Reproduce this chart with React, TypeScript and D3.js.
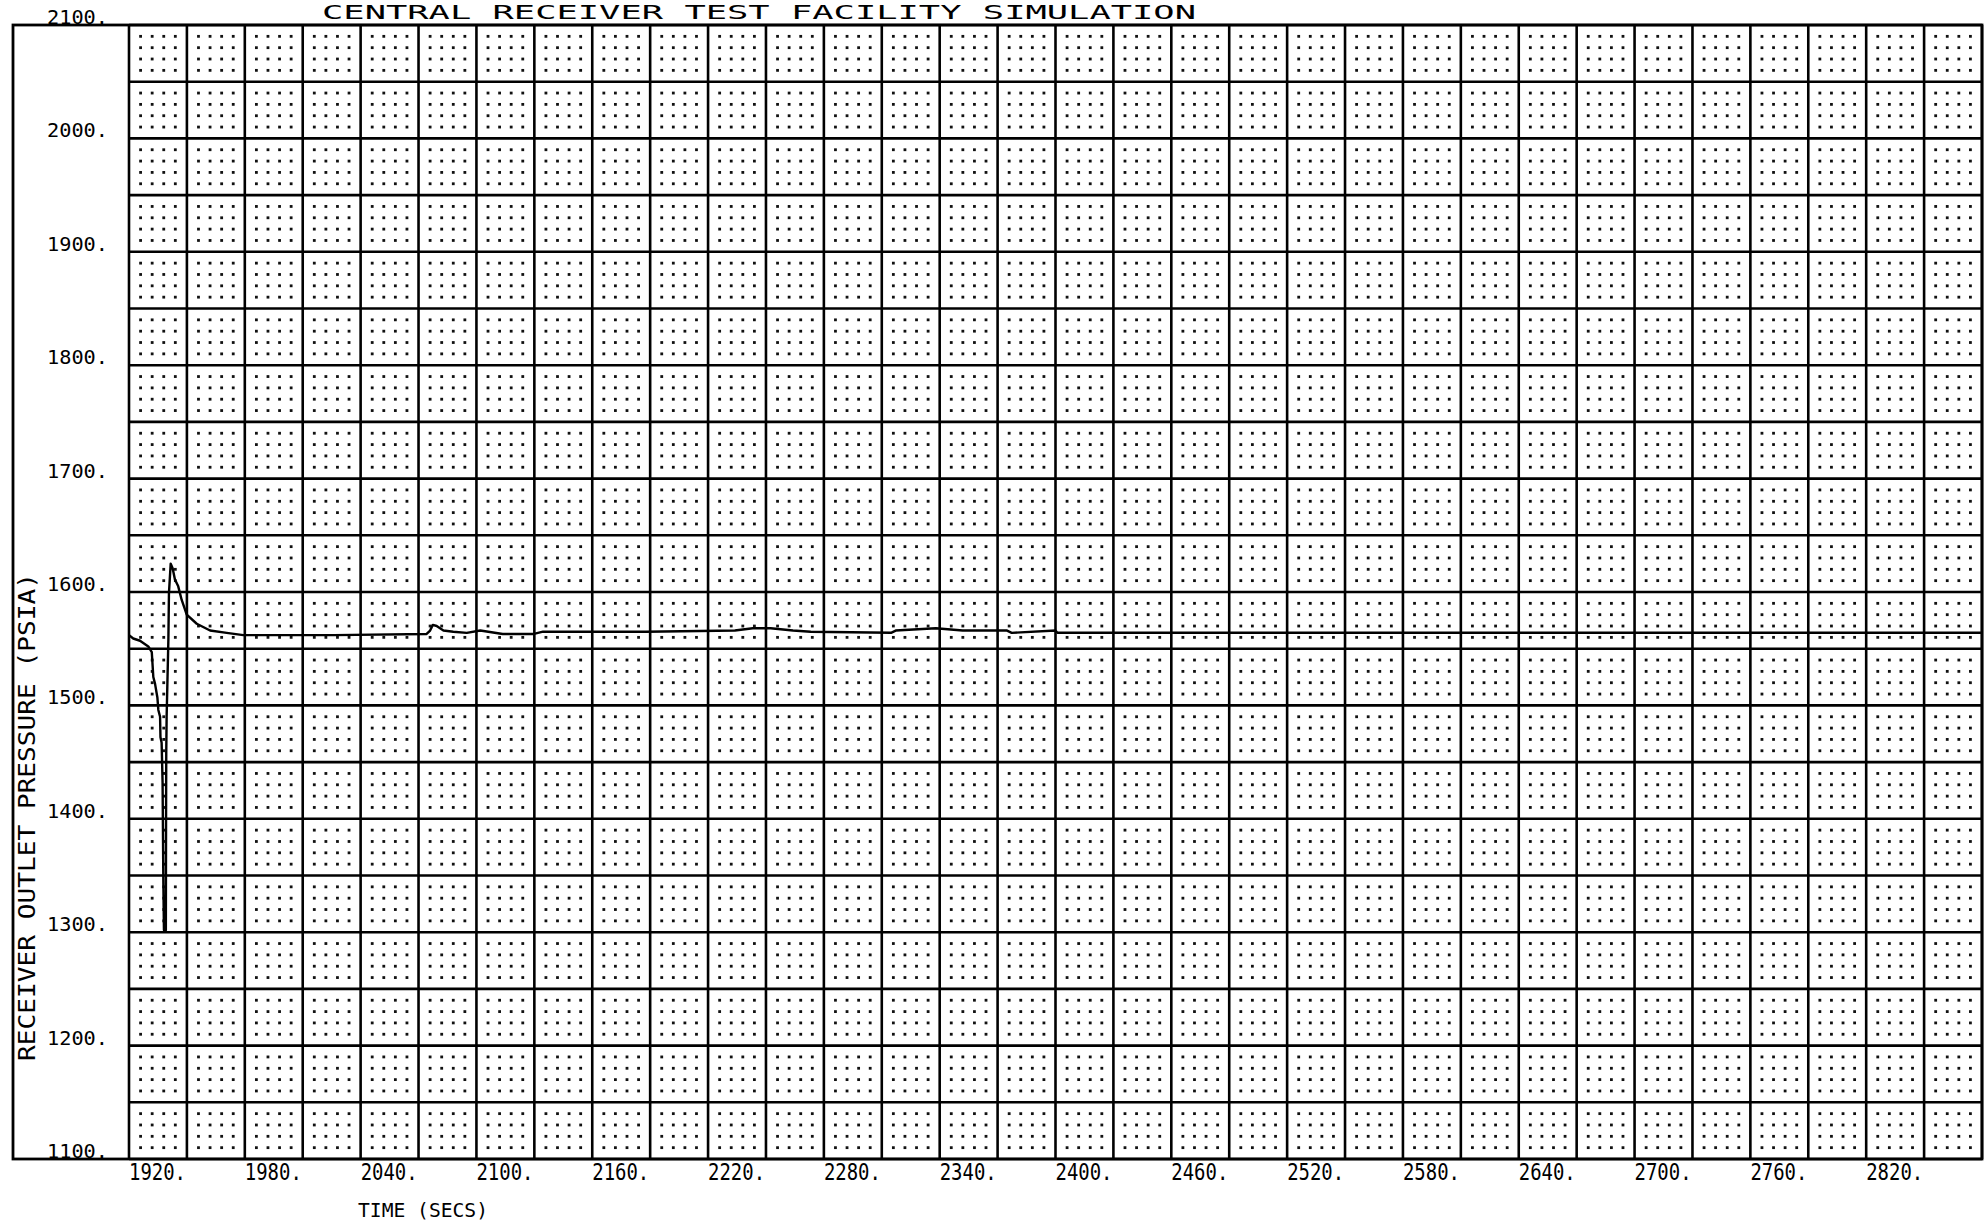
import React, {useEffect, useRef} from 'react';
import * as d3 from 'd3';

const chartTitle = 'CENTRAL RECEIVER TEST FACILITY SIMULATION';
const xTitle = 'TIME (SECS)';
const yTitle = 'RECEIVER OUTLET PRESSURE (PSIA)';

// trace
const timeSecs = [
  1920, 1922.2, 1925.7, 1930, 1931.8, 1932.6, 1933.5, 1934.7, 1935.2, 1936.1,
  1936.3, 1936.9, 1937.4, 1937.8, 1938.1, 1939.1, 1939.2, 1939.3, 1939.5, 1940.4,
  1940.7, 1941.6, 1942.6, 1943.8, 1945.5, 1947.3, 1949.9, 1955.1, 1962, 1970.6,
  1979.2, 2026, 2074.2, 2076, 2077.4, 2079.4, 2082.9, 2088, 2095, 2102,
  2113.6, 2129.8, 2134.5, 2187.6, 2233.9, 2243.2, 2252.4, 2264, 2273.2, 2314.8,
  2317.2, 2338, 2351.9, 2374.9, 2377.3, 2400, 2401, 2880
];
const pressurePsia = [
  1562, 1559, 1557, 1552, 1547, 1525, 1519, 1507, 1496, 1490,
  1472, 1467, 1432, 1343, 1302, 1302, 1400, 1458, 1490, 1558,
  1599, 1625, 1621, 1611, 1605, 1593, 1580, 1572, 1566, 1564,
  1562, 1562, 1563, 1566, 1571, 1570, 1566, 1565, 1564, 1566,
  1563, 1563, 1565, 1565, 1566, 1568, 1568, 1566, 1565, 1564,
  1566, 1568, 1566, 1566, 1564, 1566, 1564, 1564
];

const xTickLabels = [1920, 1980, 2040, 2100, 2160, 2220, 2280, 2340, 2400, 2460, 2520, 2580, 2640, 2700, 2760, 2820];
const yTickLabels = [1100, 1200, 1300, 1400, 1500, 1600, 1700, 1800, 1900, 2000, 2100];

const W = 1985;
const H = 1227;
const frame = {left: 13, plotLeft: 129, right: 1982, top: 25, bottom: 1159};
const font = '"DejaVu Sans Mono", monospace';

function App() {
  const chartRef = useRef<SVGSVGElement>(null);

  useEffect(() => {
    const svg = d3.select(chartRef.current);
    svg.selectAll('*').remove();

    const x = d3.scaleLinear().domain([1920, 2880]).range([frame.plotLeft, frame.right]);
    const y = d3.scaleLinear().domain([1100, 2100]).range([frame.bottom, frame.top]);

    svg.append('rect').attr('width', W).attr('height', H).attr('fill', '#fff');

    // dotted minor grid, 4x4 per cell
    const minorX = d3.range(1920, 2880, 6).filter(v => (v - 1920) % 30 !== 0);
    const minorY = d3.range(1100, 2100, 10).filter(v => (v - 1100) % 50 !== 0);
    const dots = minorX.flatMap(a => minorY.map(b => [a, b]));
    svg.append('g')
      .selectAll('rect')
      .data(dots)
      .join('rect')
      .attr('x', d => x(d[0]) - 1.4)
      .attr('y', d => y(d[1]) - 1.4)
      .attr('width', 2.8)
      .attr('height', 2.8)
      .attr('fill', '#111');

    // major grid
    const grid = svg.append('g').attr('stroke', '#000').attr('stroke-width', 2.6);
    grid.selectAll('line.v')
      .data(d3.range(1920, 2881, 30))
      .join('line')
      .attr('class', 'v')
      .attr('x1', d => x(d)).attr('x2', d => x(d))
      .attr('y1', frame.top).attr('y2', frame.bottom);
    grid.selectAll('line.h')
      .data(d3.range(1100, 2101, 50))
      .join('line')
      .attr('class', 'h')
      .attr('x1', frame.plotLeft).attr('x2', frame.right)
      .attr('y1', d => y(d)).attr('y2', d => y(d));

    // outer frame
    svg.append('rect')
      .attr('x', frame.left).attr('y', frame.top)
      .attr('width', frame.right - frame.left)
      .attr('height', frame.bottom - frame.top)
      .attr('fill', 'none')
      .attr('stroke', '#000')
      .attr('stroke-width', 2.8);

    // the trace
    const line = d3.line<number>()
      .x((_, i) => x(timeSecs[i]))
      .y(d => y(d));
    svg.append('path')
      .datum(pressurePsia)
      .attr('d', line)
      .attr('fill', 'none')
      .attr('stroke', '#000')
      .attr('stroke-width', 2.4)
      .attr('stroke-linejoin', 'round');

    // tick labels
    svg.append('g')
      .selectAll('text')
      .data(xTickLabels)
      .join('text')
      .attr('x', d => x(d))
      .attr('y', 1180)
      .attr('font-family', font)
      .attr('font-size', 23)
      .attr('textLength', 57)
      .attr('lengthAdjust', 'spacingAndGlyphs')
      .attr('fill', '#000')
      .text(d => d + '.');

    svg.append('g')
      .selectAll('text')
      .data(yTickLabels)
      .join('text')
      .attr('x', 47)
      .attr('y', d => y(d) - 1)
      .attr('font-family', font)
      .attr('font-size', 20)
      .attr('textLength', 61)
      .attr('lengthAdjust', 'spacingAndGlyphs')
      .attr('fill', '#000')
      .text(d => d + '.');

    // titles
    svg.append('text')
      .attr('x', 322)
      .attr('y', 19)
      .attr('font-family', font)
      .attr('font-size', 19)
      .attr('textLength', 874)
      .attr('lengthAdjust', 'spacingAndGlyphs')
      .text(chartTitle);

    svg.append('text')
      .attr('x', 358)
      .attr('y', 1217)
      .attr('font-family', font)
      .attr('font-size', 20)
      .attr('textLength', 130)
      .attr('lengthAdjust', 'spacingAndGlyphs')
      .text(xTitle);

    svg.append('text')
      .attr('transform', 'translate(35, 817) rotate(-90)')
      .attr('text-anchor', 'middle')
      .attr('font-family', font)
      .attr('font-size', 23)
      .attr('textLength', 488)
      .attr('lengthAdjust', 'spacingAndGlyphs')
      .text(yTitle);
  }, []);

  return (
    <svg ref={chartRef} width={W} height={H}
         style={{position: 'absolute', left: 0, top: 0, display: 'block'}}/>
  );
}

export default App;
